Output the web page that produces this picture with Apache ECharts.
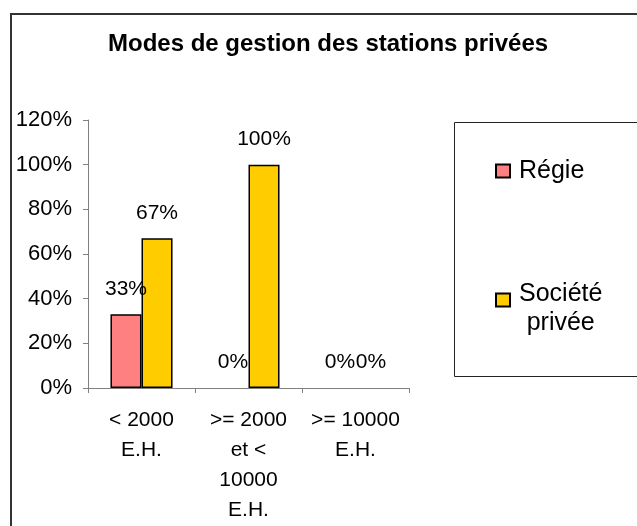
<!DOCTYPE html>
<html>
<head>
<meta charset="utf-8">
<script src="https://cdn.jsdelivr.net/npm/echarts@6/dist/echarts.min.js"></script>
<style>
  html, body { margin: 0; padding: 0; background: #fff; }
  #chart { width: 637px; height: 526px; }
</style>
</head>
<body>
<div id="chart"></div>
<script>
// données
const categories = ['< 2000\nE.H.', '>= 2000\net <\n10000\nE.H.', '>= 10000\nE.H.']
const regie = [0.33, 0, 0]
const societe = [0.67, 1, 0]
const yTicks = [0, 0.2, 0.4, 0.6, 0.8, 1, 1.2]

const font = 'Liberation Sans, Arial, sans-serif'
const pct = v => Math.round(v * 100) + '%'

// barre à 0 : pas de contour
const toBars = arr => arr.map(v => ({
  value: v,
  itemStyle: v === 0 ? { borderWidth: 0 } : undefined
}))

const chart = echarts.init(document.getElementById('chart'))

chart.setOption({
  animation: false,
  textStyle: { fontFamily: font },
  title: {
    text: 'Modes de gestion des stations privées',
    left: 108,
    top: 32,
    padding: 0,
    textStyle: { fontFamily: font, fontSize: 24, fontWeight: 'bold', color: '#000' }
  },
  graphic: [
    {
      type: 'rect',
      shape: { x: 11, y: 14, width: 640, height: 530 },
      style: { fill: 'none', stroke: '#333', lineWidth: 2 },
      z: -1
    },
    {
      type: 'rect',
      shape: { x: 454.5, y: 122.5, width: 200, height: 254 },
      style: { fill: 'none', stroke: '#222', lineWidth: 1 },
      z: -1
    }
  ],
  legend: [
    {
      data: ['Régie'],
      left: 495,
      top: 157,
      padding: 0,
      icon: 'rect',
      itemWidth: 14,
      itemHeight: 13,
      textStyle: { fontFamily: font, fontSize: 25, color: '#000', lineHeight: 28, padding: [0, 0, 0, 4] }
    },
    {
      data: ['Société privée'],
      left: 495,
      top: 262,
      padding: 0,
      icon: 'rect',
      itemWidth: 14,
      itemHeight: 13,
      formatter: () => '{c|Société}\n{c|privée}',
      textStyle: {
        fontFamily: font, fontSize: 25, color: '#000', lineHeight: 28, padding: [18, 0, 0, 4],
        rich: { c: { fontFamily: font, fontSize: 25, lineHeight: 29, align: 'center', color: '#000' } }
      }
    }
  ],
  grid: { left: 88, right: 228, top: 120, bottom: 138 },
  xAxis: {
    type: 'category',
    data: categories,
    axisLine: { lineStyle: { color: '#808080', width: 1 } },
    axisTick: { show: true, length: 5, alignWithLabel: false, lineStyle: { color: '#808080' } },
    axisLabel: {
      interval: 0, margin: 17, color: '#000', fontFamily: font, fontSize: 21, lineHeight: 30
    }
  },
  yAxis: {
    type: 'value',
    min: yTicks[0],
    max: yTicks[yTicks.length - 1],
    interval: yTicks[1] - yTicks[0],
    axisLine: { show: true, lineStyle: { color: '#808080', width: 1 } },
    axisTick: { show: true, length: 5, lineStyle: { color: '#808080' } },
    splitLine: { show: false },
    axisLabel: { formatter: pct, margin: 16, color: '#000', fontFamily: font, fontSize: 22 }
  },
  series: [
    {
      name: 'Régie',
      type: 'bar',
      data: toBars(regie),
      barGap: 0,
      barCategoryGap: '42%',
      itemStyle: { color: '#FF8080', borderColor: '#000', borderWidth: 1.5 },
      label: { show: true, position: 'top', distance: 15, formatter: p => pct(p.value), color: '#000', fontFamily: font, fontSize: 21 }
    },
    {
      name: 'Société privée',
      type: 'bar',
      data: toBars(societe),
      barGap: 0,
      barCategoryGap: '42%',
      itemStyle: { color: '#FFCC00', borderColor: '#000', borderWidth: 1.5 },
      label: { show: true, position: 'top', distance: 15, formatter: p => pct(p.value), color: '#000', fontFamily: font, fontSize: 21 }
    }
  ]
})
</script>
</body>
</html>
